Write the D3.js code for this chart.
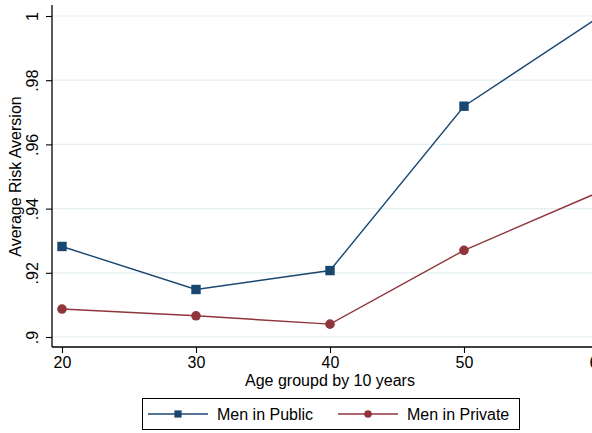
<!DOCTYPE html>
<html><head><meta charset="utf-8">
<script src="https://cdn.jsdelivr.net/npm/d3@7"></script>
<style>body{margin:0;background:#fff}svg{display:block;font-family:"Liberation Sans",Arial,sans-serif}</style>
</head><body>
<svg id="c" width="592" height="433"></svg>
<script>
const ages = [20, 30, 40, 50, 60];
const menPublic = [0.9282, 0.9148, 0.9207, 0.9719, 0.9995];
const menPrivate = [0.9087, 0.9066, 0.9040, 0.9270, 0.9450];
const yTicks = [0.9, 0.92, 0.94, 0.96, 0.98, 1];
const yTickLabels = [".9", ".92", ".94", ".96", ".98", "1"];
const seriesNames = ["Men in Public", "Men in Private"];
const colors = ["#1a476f", "#90353b"];

const svg = d3.select("#c");
const x = d3.scaleLinear().domain([20, 60]).range([62, 598]);
const y = d3.scaleLinear().domain([0.9, 1]).range([337, 16]);
const axL = 52, axB = 347;

// gridlines
svg.append("g").selectAll("line").data(yTicks).join("line")
  .attr("x1", axL).attr("x2", 600).attr("y1", d => y(d)).attr("y2", d => y(d))
  .attr("stroke", "#e4eef1").attr("stroke-width", 1.2);

// y axis
const yAxis = d3.axisLeft(y).tickValues(yTicks).tickSize(6).tickFormat((d,i) => yTickLabels[i]);
const gy = svg.append("g").attr("transform", `translate(${axL},0)`).call(yAxis);
gy.select(".domain").remove();
gy.append("line").attr("x1",0).attr("x2",0).attr("y1",5).attr("y2",axB).attr("stroke","#000").attr("stroke-width",1.3);
gy.selectAll(".tick line").attr("stroke","#000").attr("stroke-width",1.1);
gy.selectAll(".tick text").attr("font-size", 16).attr("fill","#000")
  .attr("transform", "rotate(-90)").attr("x", 0).attr("y", -14).attr("dy", 0)
  .attr("text-anchor", "middle");

// x axis
const xAxis = d3.axisBottom(x).tickValues(ages).tickSize(6).tickFormat(d3.format("d"));
const gx = svg.append("g").attr("transform", `translate(0,${axB})`).call(xAxis);
gx.select(".domain").remove();
gx.append("line").attr("x1",axL).attr("x2",600).attr("y1",0).attr("y2",0).attr("stroke","#000").attr("stroke-width",1.3);
gx.selectAll(".tick line").attr("stroke","#000").attr("stroke-width",1.1);
gx.selectAll(".tick text").attr("font-size", 16).attr("fill","#000").attr("y", 21).attr("dy", 0);

// axis titles
svg.append("text").attr("transform", `translate(21,${(y(0.9)+y(1))/2}) rotate(-90)`)
  .attr("text-anchor","middle").attr("font-size",16).text("Average Risk Aversion");
svg.append("text").attr("x", x(40)).attr("y", 386).attr("text-anchor","middle")
  .attr("font-size",16).text("Age groupd by 10 years");

// series
const series = [menPublic, menPrivate];
const line = d3.line().x((d,i) => x(ages[i])).y(d => y(d));
const plot = svg.append("g");
series.forEach((s, k) => {
  plot.append("path").datum(s).attr("d", line).attr("fill","none")
    .attr("stroke", colors[k]).attr("stroke-width", 1.4);
});
plot.selectAll("rect.m").data(menPublic).join("rect").attr("class","m")
  .attr("x", (d,i) => x(ages[i]) - 4.7).attr("y", d => y(d) - 4.7)
  .attr("width", 9.4).attr("height", 9.4).attr("fill", colors[0]);
plot.selectAll("circle.m").data(menPrivate).join("circle").attr("class","m")
  .attr("cx", (d,i) => x(ages[i])).attr("cy", d => y(d)).attr("r", 4.8).attr("fill", colors[1]);

// legend
const lg = svg.append("g");
lg.append("rect").attr("x", 142.5).attr("y", 398.5).attr("width", 377).attr("height", 31)
  .attr("fill","#fff").attr("stroke","#000").attr("stroke-width",1);
const lx = [148, 338];
seriesNames.forEach((n, k) => {
  lg.append("line").attr("x1", lx[k]).attr("x2", lx[k]+60).attr("y1", 414).attr("y2", 414)
    .attr("stroke", colors[k]).attr("stroke-width", 1.4);
  if (k === 0) lg.append("rect").attr("x", lx[k]+30-3.6).attr("y", 414-3.6).attr("width",7.2).attr("height",7.2).attr("fill",colors[k]);
  else lg.append("circle").attr("cx", lx[k]+30).attr("cy", 414).attr("r", 3.8).attr("fill", colors[k]);
  lg.append("text").attr("x", lx[k]+69).attr("y", 420).attr("font-size", 16).text(n);
});
</script>
</body></html>
